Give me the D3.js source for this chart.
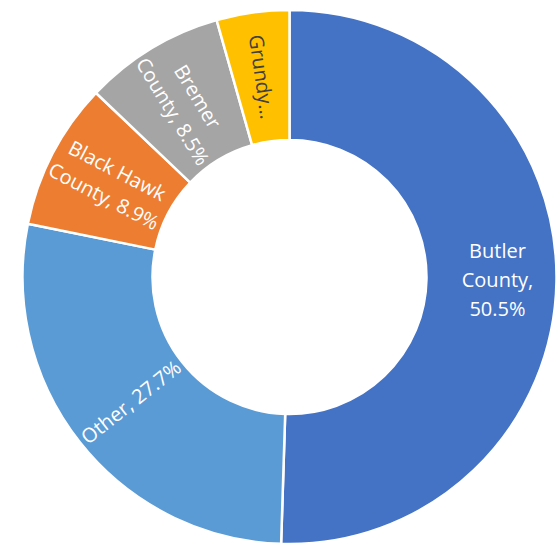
<!DOCTYPE html>
<html>
<head>
<meta charset="utf-8">
<script src="https://cdn.jsdelivr.net/npm/d3@7"></script>
<style>
    body { margin: 0; background: #ffffff; }
    svg { display: block; }
</style>
</head>
<body>
<svg id="chart"></svg>
<script>
// Donut data, clockwise from 12 o'clock
const categories = ["Butler County", "Other", "Black Hawk County", "Bremer County", "Grundy County"];
const shares = [50.5, 27.7, 8.9, 8.5, 4.4];
const labelLines = [
    ["Butler", "County,", "50.5%"],
    ["Other, 27.7%"],
    ["Black Hawk", "County, 8.9%"],
    ["Bremer", "County, 8.5%"],
    ["Grundy\u2026"]
];
const colors = ["#4472C4", "#5B9BD5", "#ED7D31", "#A5A5A5", "#FFC000"];
const labelColors = ["#ffffff", "#ffffff", "#ffffff", "#ffffff", "#404040"];

const width = 558;
const height = 548;
const cx = 289.5;
const cy = 277;
const outerR = 267;
const innerR = 137;

const data = categories.map((c, i) => ({
    name: c,
    value: shares[i],
    lines: labelLines[i],
    color: colors[i],
    textColor: labelColors[i]
}));

const svg = d3.select("#chart")
    .attr("width", width)
    .attr("height", height);

const g = svg.append("g")
    .attr("transform", `translate(${cx}, ${cy})`);

const pie = d3.pie()
    .value(d => d.value)
    .sort(null);

const arc = d3.arc()
    .innerRadius(innerR)
    .outerRadius(outerR);

const arcs = pie(data);

// Slices
g.selectAll(".slice")
    .data(arcs)
    .enter()
    .append("path")
    .attr("class", "slice")
    .attr("d", arc)
    .attr("fill", d => d.data.color)
    .attr("stroke", "#ffffff")
    .attr("stroke-width", 2.5);

// Labels, rotated along the radius (except the big one)
const labelR = (innerR + outerR) / 2;
const fontSize = 20;
const lineH = 29;

const labels = g.selectAll(".label")
    .data(arcs)
    .enter()
    .append("text")
    .attr("class", "label")
    .attr("transform", (d, i) => {
        const mid = (d.startAngle + d.endAngle) / 2;
        const r = i === 0 ? labelR + 6 : labelR;
        const x = Math.sin(mid) * r;
        const y = -Math.cos(mid) * r;
        const rot = i === 0 ? 0 : mid * 180 / Math.PI - 270;
        return `translate(${x}, ${y}) rotate(${rot})`;
    })
    .style("font-family", "'Open Sans', sans-serif")
    .style("font-size", fontSize + "px")
    .style("fill", d => d.data.textColor)
    .style("text-anchor", "middle");

labels.each(function (d) {
    const lines = d.data.lines;
    const t = d3.select(this);
    lines.forEach((line, j) => {
        t.append("tspan")
            .attr("x", 0)
            .attr("y", (j - (lines.length - 1) / 2) * lineH)
            .attr("dy", "0.35em")
            .text(line);
    });
});
</script>
</body>
</html>
